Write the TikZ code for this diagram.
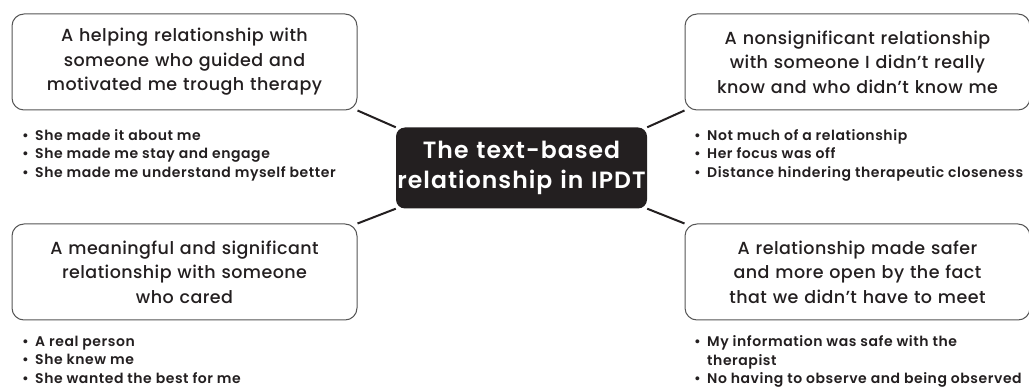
\documentclass[tikz,border=0pt]{standalone}
\usepackage{fontspec}
\setmainfont{Poppins}
\newfontfamily\headfont[LetterSpace=2.5]{Poppins Medium}
\newfontfamily\bulletfont[LetterSpace=4]{Poppins SemiBold}
\newfontfamily\centerfont[LetterSpace=4.5]{Poppins SemiBold}
\usetikzlibrary{backgrounds}
\definecolor{ink}{HTML}{231F20}
\definecolor{frame}{HTML}{555555}
\tikzset{
  x=1pt,y=-1pt,
  headbox/.style={draw=frame, line width=1pt, rounded corners=12pt, fill=white,
    minimum width=345pt, minimum height=96pt, text width=335pt, align=center,
    text=ink, font=\headfont\fontsize{17.5}{24.5}\selectfont, inner sep=0pt},
  centerbox/.style={fill=ink, rounded corners=9pt, minimum width=251pt, minimum height=81pt,
    text width=249pt, align=center, text=white, font=\centerfont\fontsize{23.5}{29.5}\selectfont, inner sep=0pt},
  bullets/.style={anchor=north west, inner sep=0pt, text=ink, align=left,
    font=\bulletfont\fontsize{14}{18.5}\selectfont},
  link/.style={draw=ink, line width=2pt}
}
\newcommand{\bl}[1]{\makebox[13pt][l]{•}#1}
\begin{document}
\begin{tikzpicture}
\useasboundingbox (0,0) rectangle (1029,387);
\node[headbox] (tl) at (184.5,62) {A helping relationship with\\someone who guided and\\motivated me trough therapy};
\node[headbox] (bl) at (184.5,272) {A meaningful and significant\\relationship with someone\\who cared};
\node[headbox] (tr) at (857.5,62) {A nonsignificant relationship\\with someone I didn’t really\\know and who didn’t know me};
\node[headbox] (br) at (857.5,272) {A relationship made safer\\and more open by the fact\\that we didn’t have to meet};
\node[centerbox] (c) at (521.5,168) {The text-based\\relationship in IPDT};
\begin{scope}[on background layer]
\draw[link] (tl.south east) -- (c.north west);
\draw[link] (bl.north east) -- (c.south west);
\draw[link] (tr.south west) -- (c.north east);
\draw[link] (br.north west) -- (c.south east);
\end{scope}
\node[bullets] (tlb) at (22,129) {\bl{She made it about me}\\\bl{She made me stay and engage}\\\bl{She made me understand myself better}};
\node[bullets] (blb) at (22,335.5) {\bl{A real person}\\\bl{She knew me}\\\bl{She wanted the best for me}};
\node[bullets] (trb) at (694,129) {\bl{Not much of a relationship}\\\bl{Her focus was off}\\\bl{Distance hindering therapeutic closeness}};
\node[bullets] (brb) at (694,335.5) {\bl{My information was safe with the}\\\hspace*{13pt}therapist\\\bl{No having to observe and being observed}};
\end{tikzpicture}
\end{document}
